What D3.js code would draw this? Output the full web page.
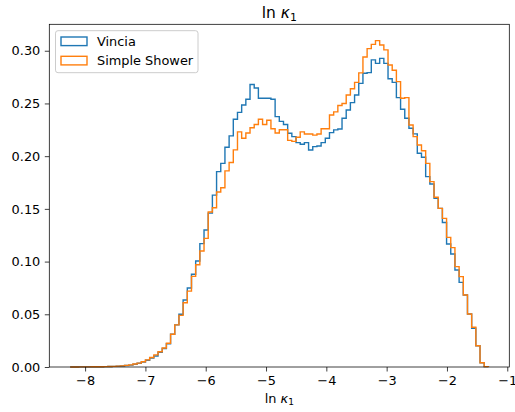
<!DOCTYPE html>
<html>
<head>
<meta charset="utf-8">
<script src="https://cdn.jsdelivr.net/npm/d3@7"></script>
<style>
  html, body { margin: 0; padding: 0; background: #fff; }
  svg { display: block; font-family: "DejaVu Sans", sans-serif; }
</style>
</head>
<body>
<div id="chart"></div>
<script>
// Histogrammes "step" de ln κ1 : Vincia vs Simple Shower (100 bins communs)

const binLo = -8.247
const binHi = -1.313
const nBins = 100

const seriesNames = ["Vincia", "Simple Shower"]

const vincia = [
  0, 0, 0.0001, 0.0001, 0.0001, 0.0002, 0.0002, 0.0003, 0.0004, 0.0005,
  0.0006, 0.0008, 0.001, 0.0014, 0.0018, 0.0026, 0.0035, 0.0047, 0.0064, 0.0085,
  0.0105, 0.014, 0.0175, 0.022, 0.031, 0.040, 0.050, 0.0636, 0.075, 0.088,
  0.1005, 0.117, 0.130, 0.146, 0.163, 0.1853, 0.1932, 0.2084, 0.2192, 0.235,
  0.2415, 0.2486, 0.254, 0.268, 0.2647, 0.255, 0.255, 0.255, 0.254, 0.2375,
  0.233, 0.230, 0.2217, 0.2185, 0.2128, 0.2113, 0.2128, 0.2059, 0.209, 0.2097,
  0.2128, 0.217, 0.2223, 0.2249, 0.2258, 0.236, 0.2438, 0.2508, 0.258, 0.269,
  0.2786, 0.2792, 0.2913, 0.288, 0.2928, 0.288, 0.2735, 0.270, 0.2555, 0.2445,
  0.236, 0.2265, 0.2211, 0.2027, 0.199, 0.1806, 0.1736, 0.160, 0.1505, 0.137,
  0.1167, 0.1072, 0.092, 0.0803, 0.0683, 0.0503, 0.0367, 0.0202, 0.0041, 0.0004
]

const simpleShower = [
  0, 0, 0.0001, 0.0001, 0.0001, 0.0002, 0.0002, 0.0003, 0.0004, 0.0005,
  0.0006, 0.0008, 0.0011, 0.0015, 0.002, 0.0028, 0.0037, 0.005, 0.0068, 0.009,
  0.0115, 0.0145, 0.018, 0.0225, 0.031, 0.040, 0.049, 0.061, 0.072, 0.086,
  0.097, 0.110, 0.122, 0.147, 0.151, 0.166, 0.170, 0.186, 0.194, 0.206,
  0.223, 0.217, 0.222, 0.227, 0.230, 0.235, 0.230, 0.234, 0.226, 0.222,
  0.225, 0.225, 0.215, 0.214, 0.218, 0.223, 0.221, 0.221, 0.220, 0.221,
  0.226, 0.226, 0.239, 0.242, 0.248, 0.250, 0.258, 0.264, 0.270, 0.279,
  0.294, 0.302, 0.306, 0.3096, 0.3055, 0.3008, 0.2865, 0.2815, 0.2707, 0.255,
  0.2555, 0.2296, 0.2185, 0.2106, 0.2052, 0.1932, 0.1758, 0.161, 0.1505, 0.141,
  0.123, 0.1132, 0.0952, 0.0857, 0.0683, 0.0503, 0.0377, 0.0202, 0.0041, 0.0004
]

const xTicks = [-8, -7, -6, -5, -4, -3, -2, -1]
const yTicks = [0, 0.05, 0.10, 0.15, 0.20, 0.25, 0.30]

const colors = ["#1f77b4", "#ff7f0e"]

const W = 515, H = 412
const box = { left: 49.3, right: 509.3, top: 24.3, bottom: 367 }
const fs = 12.9

const svg = d3.select("#chart").append("svg")
  .attr("width", W).attr("height", H)
  .attr("viewBox", `0 0 ${W} ${H}`)

// Bords de bins communs
const edges = d3.range(nBins + 1).map((i) => binLo + (binHi - binLo) * i / nBins)

// Échelles (marges 5 % en x comme matplotlib, y collé à 0)
const pad = 0.05 * (binHi - binLo)
const x = d3.scaleLinear().domain([binLo - pad, binHi + pad]).range([box.left, box.right])
const yMax = d3.max([...vincia, ...simpleShower]) * 1.05
const y = d3.scaleLinear().domain([0, yMax]).range([box.bottom, box.top])

// Histogrammes step
function stepPoints(vals) {
  const pts = [[edges[0], 0]]
  vals.forEach((v, i) => {
    pts.push([edges[i], v])
    pts.push([edges[i + 1], v])
  })
  pts.push([edges[nBins], 0])
  return pts
}
const line = d3.line().x((d) => x(d[0])).y((d) => y(d[1]))

const plot = svg.append("g")
;[vincia, simpleShower].forEach((vals, k) => {
  plot.append("path")
    .attr("d", line(stepPoints(vals)))
    .attr("fill", "none")
    .attr("stroke", colors[k])
    .attr("stroke-width", 1.4)
    .attr("stroke-linejoin", "miter")
})

// Axes
const fmtY = d3.format(".2f")
const xAxis = svg.append("g")
  .attr("transform", `translate(0,${box.bottom})`)
  .call(d3.axisBottom(x).tickValues(xTicks).tickFormat(d3.format("d")).tickSize(4.5).tickPadding(4.5))
const yAxis = svg.append("g")
  .attr("transform", `translate(${box.left},0)`)
  .call(d3.axisLeft(y).tickValues(yTicks).tickFormat(fmtY).tickSize(4.5).tickPadding(4.5))

;[xAxis, yAxis].forEach((a) => {
  a.select(".domain").remove()
  a.selectAll(".tick line").attr("stroke", "#000").attr("stroke-width", 0.75)
  a.selectAll(".tick text")
    .attr("fill", "#000")
    .attr("font-size", fs)
    .attr("font-family", "DejaVu Sans")
})

// Cadre
svg.append("rect")
  .attr("x", box.left).attr("y", box.top)
  .attr("width", box.right - box.left).attr("height", box.bottom - box.top)
  .attr("fill", "none").attr("stroke", "#000").attr("stroke-width", 0.75)

// ln κ1 en mathtext
function lnKappa(sel, size) {
  sel.append("tspan").text("ln ")
  sel.append("tspan").attr("font-style", "italic").text("κ")
  sel.append("tspan").attr("font-size", size * 0.7).attr("dy", size * 0.2).text("1")
}

const cx = (box.left + box.right) / 2
svg.append("text")
  .attr("x", cx).attr("y", 17.5)
  .attr("text-anchor", "middle").attr("font-size", 15.5).attr("fill", "#000")
  .call(lnKappa, 15.5)

svg.append("text")
  .attr("x", cx).attr("y", 402.5)
  .attr("text-anchor", "middle").attr("font-size", fs).attr("fill", "#000")
  .call(lnKappa, fs)

// Légende
const leg = svg.append("g").attr("transform", "translate(55.5,30.7)")
leg.append("rect")
  .attr("width", 142.5).attr("height", 42)
  .attr("rx", 2.5)
  .attr("fill", "#fff").attr("fill-opacity", 0.8)
  .attr("stroke", "#cccccc").attr("stroke-width", 1)

seriesNames.forEach((name, i) => {
  const row = leg.append("g").attr("transform", `translate(0,${6 + i * 19.3})`)
  row.append("rect")
    .attr("x", 5.5).attr("y", 0.3)
    .attr("width", 26).attr("height", 8.6)
    .attr("fill", "none").attr("stroke", colors[i]).attr("stroke-width", 1.4)
  row.append("text")
    .attr("x", 41.5).attr("y", 9.3)
    .attr("font-size", fs).attr("fill", "#000")
    .text(name)
})
</script>
</body>
</html>
